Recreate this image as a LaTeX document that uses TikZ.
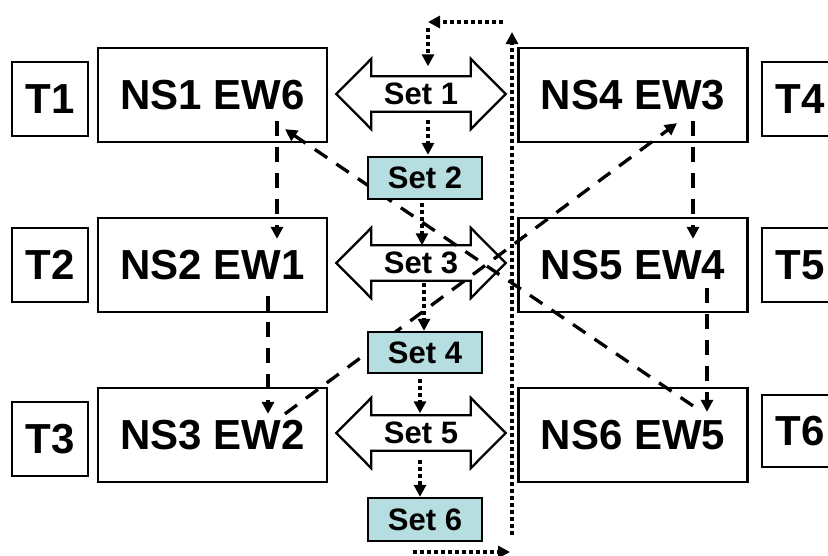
\documentclass[tikz,border=0pt]{standalone}
\usepackage{fontspec}
\setmainfont{Liberation Sans}
\usetikzlibrary{arrows.meta,calc,backgrounds}
\definecolor{setfill}{RGB}{182,221,224}
\tikzset{
  big/.style={font=\fontsize{42}{42}\selectfont\bfseries},
  small/.style={font=\fontsize{31}{31}\selectfont\bfseries},
  nsbox/.style={draw,line width=2.3pt,fill=white,inner sep=0pt,minimum width=229pt,minimum height=94pt,big},
  tbox/.style={draw,line width=2.3pt,fill=white,inner sep=0pt,minimum width=76pt,minimum height=74pt,big},
  setbox/.style={draw,line width=2.3pt,fill=setfill,inner sep=0pt,minimum width=114pt,minimum height=42pt,small},
  shaft/.style={inner sep=0pt,minimum width=99pt,minimum height=35pt,small},
  arrowoutline/.style={draw,line width=2.3pt,fill=white,line join=miter},
  tip/.style={-{Triangle[length=12pt,width=12pt]}},
  dashlink/.style={tip,line width=3.3pt,dash pattern=on 15pt off 11pt},
  dotlink/.style={tip,line width=3.8pt,dash pattern=on 4pt off 3pt}
}
% outline of a two-headed block arrow around a shaft node
\newcommand{\blockarrow}[1]{%
  \path[arrowoutline] (#1.north west) -- (#1.north east) -- ++(0,-17.5)
    -- ($(#1.east)+(35,0)$) -- ($(#1.south east)+(0,17.5)$) -- (#1.south east)
    -- (#1.south west) -- ++(0,17.5) -- ($(#1.west)+(-35,0)$)
    -- ($(#1.north west)+(0,-17.5)$) -- cycle;}
\begin{document}
\begin{tikzpicture}[x=1pt,y=-1pt]
\useasboundingbox (0,0) rectangle (828,555);
\clip (0,0) rectangle (828,555);

% time slots
\node[tbox] (t1) at (50,99) {T1};
\node[tbox] (t2) at (50,265) {T2};
\node[tbox] (t3) at (50,439) {T3};
\node[tbox] (t4) at (800,99) {T4};
\node[tbox] (t5) at (800,265) {T5};
\node[tbox,minimum height=72pt] (t6) at (800,431) {T6};

% phase boxes
\node[nsbox] (ns1) at (212.5,95) {NS1 EW6};
\node[nsbox] (ns2) at (212.5,265) {NS2 EW1};
\node[nsbox] (ns3) at (212.5,435) {NS3 EW2};
\node[nsbox] (ns4) at (633,95) {NS4 EW3};
\node[nsbox] (ns5) at (633,265) {NS5 EW4};
\node[nsbox] (ns6) at (633,435) {NS6 EW5};

% exchange arrows
\node[shaft] (set1) at (421,94) {Set 1};
\node[shaft] (set3) at (421,263) {Set 3};
\node[shaft] (set5) at (421,433) {Set 5};
\begin{scope}[on background layer]
  \blockarrow{set1}
  \blockarrow{set3}
  \blockarrow{set5}
\end{scope}

% EW rotation
\draw[dashlink] ($(ns1.south)+(64.5,-22)$) -- ($(ns2.north)+(64.5,22)$);
\draw[dashlink] ($(ns2.south)+(55.5,-17)$) -- ($(ns3.north)+(55.5,27)$);
\draw[dashlink] ($(ns4.south)+(60,-22)$) -- ($(ns5.north)+(60,22)$);
\draw[dashlink] ($(ns5.south)+(74,-25)$) -- ($(ns6.north)+(74,25)$);
\draw[dashlink] ($(ns6.north)+(60,19)$) -- ($(ns1.south)+(72.5,-14)$);
\draw[dashlink] ($(ns3.north)+(72.5,27)$) -- ($(ns4.south)+(44,-20)$);

% intermediate sets
\node[setbox] (set2) at (425,178) {Set 2};
\node[setbox,minimum height=41pt] (set4) at (425,352.5) {Set 4};
\node[setbox,minimum height=43pt] (set6) at (425,519.5) {Set 6};

% sequence of sets
\draw[dotlink,shorten <=8pt,shorten >=1pt] ([xshift=7pt]set1.south) -- ([xshift=3pt]set2.north);
\draw[dotlink,shorten <=3pt] ([xshift=-3pt]set2.south) -- ([xshift=1pt]set3.north);
\draw[dotlink,shorten <=2pt] ([xshift=3pt]set3.south) -- ([xshift=-1pt]set4.north);
\draw[dotlink,shorten <=5pt,shorten >=2pt] ([xshift=-5pt]set4.south) -- ([xshift=-1pt]set5.north);
\draw[dotlink,shorten <=9pt] ([xshift=-1pt]set5.south) -- ([xshift=-5pt]set6.north);

% return loop
\coordinate (lb1) at (413,552);
\coordinate (lb2) at (510,552);
\coordinate (lv1) at (512,535);
\coordinate (lv2) at (512,32);
\coordinate (lt1) at (503,22);
\coordinate (lt2) at (428,22);
\coordinate (ld1) at (428,28);
\draw[dotlink] (lb1) -- (lb2);
\draw[dotlink] (lv1) -- (lv2);
\draw[dotlink] (lt1) -- (lt2);
\draw[dotlink,shorten >=10pt] (ld1) -- ([xshift=7pt]set1.north);
\end{tikzpicture}
\end{document}
